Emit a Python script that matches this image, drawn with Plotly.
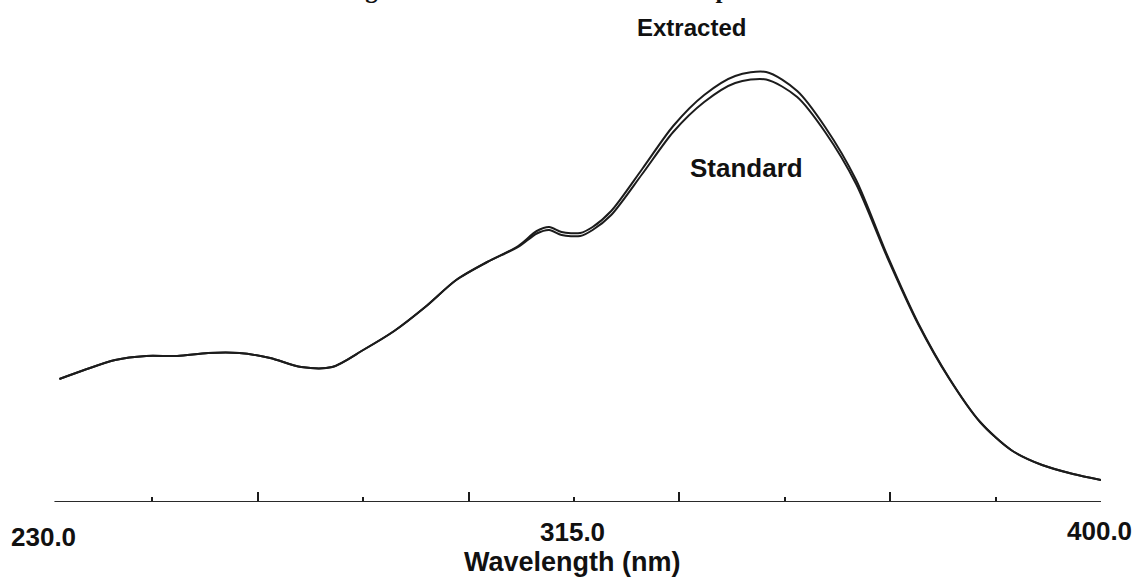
import plotly.graph_objects as go

# Wavelength grid (nm) and absorbance readings for both spectra
wavelength = [232, 236, 241, 246, 251, 256, 261, 266, 271, 276, 281, 286, 291,
              296, 301, 306, 309, 311, 313, 316, 318, 321, 326, 331, 336, 341,
              346, 351, 355.5, 360.5, 365.5, 370.5, 375.5, 380.5, 385.5, 390.5,
              395.5, 400]

extracted = [0.246, 0.264, 0.284, 0.292, 0.292, 0.298, 0.298, 0.288, 0.270,
             0.270, 0.304, 0.342, 0.390, 0.444, 0.480, 0.512, 0.542, 0.550,
             0.540, 0.538, 0.550, 0.582, 0.666, 0.752, 0.814, 0.852, 0.860,
             0.822, 0.750, 0.644, 0.494, 0.358, 0.248, 0.160, 0.104, 0.074,
             0.056, 0.044]

standard = [0.246, 0.264, 0.284, 0.292, 0.292, 0.298, 0.298, 0.288, 0.270,
            0.270, 0.304, 0.342, 0.390, 0.444, 0.480, 0.510, 0.537, 0.544,
            0.534, 0.532, 0.544, 0.574, 0.656, 0.740, 0.800, 0.838, 0.845,
            0.810, 0.740, 0.636, 0.490, 0.356, 0.247, 0.160, 0.104, 0.074,
            0.056, 0.044]

major_ticks = [264, 298, 332, 366]
tick_labels = ["230.0", "315.0", "400.0"]
tick_label_pos = [230, 315, 400]

line_color = "#1c1c1c"
label_font = dict(family="Liberation Sans, Arial, sans-serif", size=26,
                  color="#111111", weight="bold")

fig = go.Figure()
fig.add_trace(go.Scatter(x=wavelength, y=extracted, mode="lines", name="Extracted",
                         line=dict(color=line_color, width=2, shape="spline",
                                   smoothing=0.8)))
fig.add_trace(go.Scatter(x=wavelength, y=standard, mode="lines", name="Standard",
                         line=dict(color=line_color, width=2, shape="spline",
                                   smoothing=0.8)))

fig.update_layout(
    width=1134, height=578,
    margin=dict(l=47, r=33, t=2, b=76),
    paper_bgcolor="white", plot_bgcolor="white",
    showlegend=False,
    xaxis=dict(range=[230, 400], showgrid=False, zeroline=False,
               showline=False,
               tickvals=major_ticks, showticklabels=False,
               ticks="inside", ticklen=10, tickwidth=2, tickcolor="#1c1c1c",
               minor=dict(tick0=247, dtick=34, ticks="inside", ticklen=5,
                          tickwidth=2, tickcolor="#1c1c1c")),
    yaxis=dict(range=[0, 1], visible=False),
)

# Baseline of the wavelength axis
fig.add_shape(type="line", xref="x", yref="y", x0=231.2, x1=400, y0=0, y1=0,
              line=dict(color="#2a2a2a", width=2))

shifts = [-4, -2, -2]
ys = [-0.07, -0.06, -0.058]
for lab, pos, dx, yy in zip(tick_labels, tick_label_pos, shifts, ys):
    fig.add_annotation(x=pos, y=yy, xref="x", yref="paper", text=lab,
                       showarrow=False, xanchor="center", yanchor="middle",
                       xshift=dx, font=label_font)

fig.add_annotation(x=315, y=-0.12, xref="x", yref="paper", text="Wavelength (nm)",
                   showarrow=False, xanchor="center", yanchor="middle",
                   xshift=-2, font=dict(label_font, size=27))

fig.add_annotation(x=333.9, y=(502 - 27) / 500, xref="x", yref="paper",
                   text="Extracted", showarrow=False, xanchor="center",
                   yanchor="middle", font=dict(label_font, size=24))
fig.add_annotation(x=342.8, y=(502 - 168) / 500, xref="x", yref="paper",
                   text="Standard", showarrow=False, xanchor="center",
                   yanchor="middle", font=dict(label_font, size=26))

# Figure caption sitting at the very top edge
fig.add_annotation(x=313.3, y=1, xref="x", yref="paper",
                   text="Figure 1: Standard and extracted spectra",
                   showarrow=False, xanchor="center", yanchor="bottom", yshift=-3,
                   font=dict(family="Liberation Serif, Times New Roman, serif",
                             size=25, color="#111111", weight="bold"))

fig.write_html("out.html")
